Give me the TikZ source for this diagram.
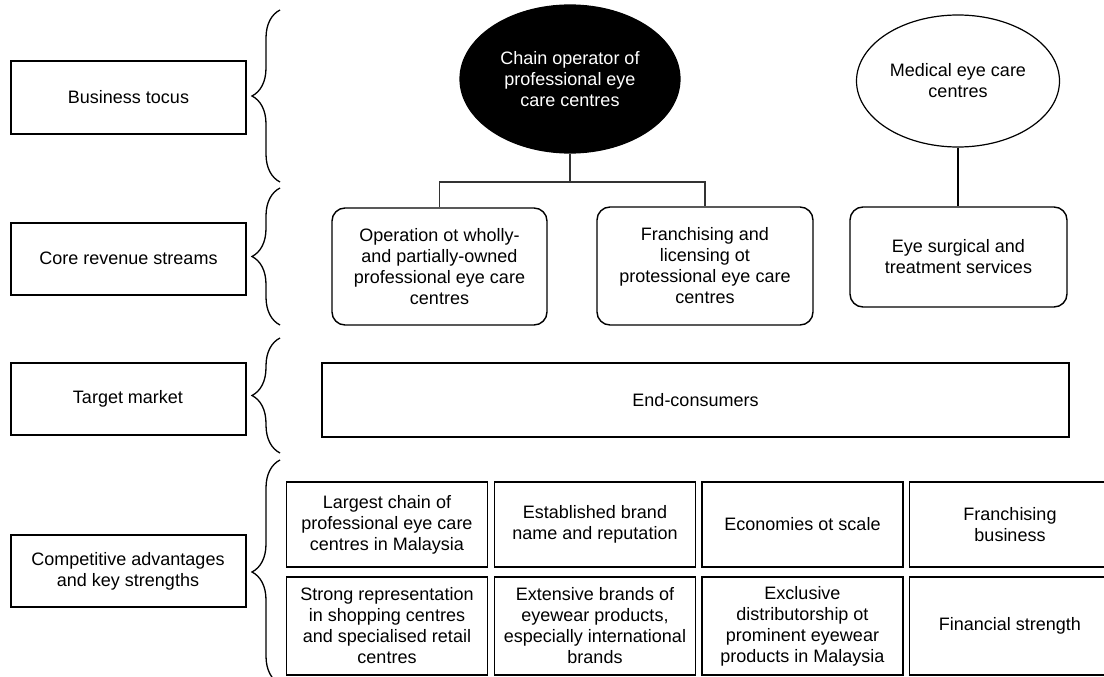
\documentclass[tikz,border=0pt]{standalone}
\usepackage{fontspec}
\setmainfont{Liberation Sans}
\usetikzlibrary{decorations.pathreplacing,shapes.geometric}

\begin{document}
\begin{tikzpicture}[x=1pt,y=-1pt,
  every node/.style={font=\fontsize{18}{21}\selectfont, align=center, inner sep=1pt},
  labelbox/.style={draw, line width=2pt, minimum width=235pt, minimum height=72pt},
  streambox/.style={draw, line width=1.4pt, rounded corners=13pt},
  cellbox/.style={draw, line width=1.6pt, minimum width=201pt},
  oval/.style={ellipse, draw, line width=1.2pt},
  link/.style={line width=1.5pt},
  bracket/.style={decorate, decoration={brace, amplitude=28pt}, line width=1.3pt}
]
\useasboundingbox (0,0) rectangle (1104,677);
\clip (0,0) rectangle (1104,677);

% row labels on the left
\node[labelbox] (bf)  at (128.5, 97.5) {Business tocus};
\node[labelbox] (crs) at (128.5,258.5) {Core revenue streams};
\node[labelbox] (tm)  at (128,398.5)   {Target market};
\node[labelbox] (cas) at (128,571)     {Competitive advantages\\and key strengths};

% curly braces
\draw[bracket] (280,182) -- (280,10);
\draw[bracket] (280,325) -- (280,188);
\draw[bracket] (280,453) -- (280,338);
\draw[bracket] (280,684) -- (280,460);

% business focus
\node[oval, fill=black, text=white, minimum width=220pt, minimum height=148pt]
  (chain) at (570,79) {Chain operator of\\professional eye\\care centres};
\node[oval, minimum width=203pt, minimum height=132pt]
  (med) at (958,81) {Medical eye care\\centres};

% core revenue streams
\node[streambox, minimum width=215pt, minimum height=117pt] (op) at (439.5,266.5)
  {Operation ot wholly-\\and partially-owned\\professional eye care\\centres};
\node[streambox, minimum width=216pt, minimum height=118pt] (fr) at (705,266)
  {Franchising and\\licensing ot\\protessional eye care\\centres};
\node[streambox, minimum width=217pt, minimum height=100pt] (eye) at (958.5,257)
  {Eye surgical and\\treatment services};

% connectors
\coordinate (junction) at (570,182);
\draw[link, black!80] (chain.south) -- (junction);
\draw[link, black!80] (op.north) -- (op.north |- junction) -- (fr.north |- junction) -- (fr.north);
\draw[link] (med.south) -- (med.south |- eye.north);

% target market
\node[draw, line width=1.5pt, minimum width=747pt, minimum height=74pt] (ec) at (695.5,400) {End-consumers};

% competitive advantages grid
\node[cellbox, minimum height=85pt] (c11) at (387,524.5)
  {Largest chain of\\professional eye care\\centres in Malaysia};
\node[cellbox, minimum height=85pt] (c12) at (595,524.5)
  {Established brand\\name and reputation};
\node[cellbox, minimum height=85pt] (c13) at (802.5,524.5)
  {Economies ot scale};
\node[cellbox, minimum height=85pt] (c14) at (1010,524.5)
  {Franchising\\business};
\node[cellbox, minimum height=98pt] (c21) at (387,626)
  {Strong representation\\in shopping centres\\and specialised retail\\centres};
\node[cellbox, minimum height=98pt] (c22) at (595,626)
  {Extensive brands of\\eyewear products,\\especially international\\brands};
\node[cellbox, minimum height=98pt] (c23) at (802.5,626)
  {Exclusive\\distributorship ot\\prominent eyewear\\products in Malaysia};
\node[cellbox, minimum height=98pt] (c24) at (1010,626)
  {Financial strength};
\end{tikzpicture}
\end{document}
